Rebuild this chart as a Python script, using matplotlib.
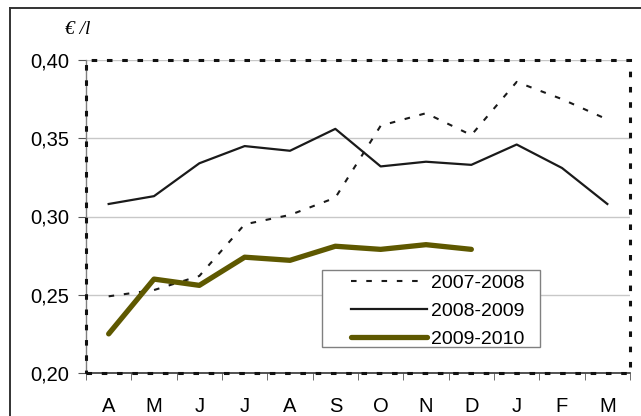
import matplotlib
matplotlib.use("Agg")
import matplotlib.pyplot as plt
from matplotlib.lines import Line2D
from matplotlib.patches import Rectangle

plt.rcParams["font.family"] = ["Liberation Sans", "DejaVu Sans"]
plt.rcParams["lines.scale_dashes"] = False

months = ["A", "M", "J", "J", "A", "S", "O", "N", "D", "J", "F", "M"]
s_2007_2008 = [0.249, 0.253, 0.262, 0.295, 0.301, 0.312, 0.358, 0.366, 0.352, 0.386, 0.375, 0.362]
s_2008_2009 = [0.308, 0.313, 0.334, 0.345, 0.342, 0.356, 0.332, 0.335, 0.333, 0.346, 0.331, 0.308]
s_2009_2010 = [0.225, 0.260, 0.256, 0.274, 0.272, 0.281, 0.279, 0.282, 0.279]
yticks = [0.20, 0.25, 0.30, 0.35, 0.40]
ytick_labels = ["0,20", "0,25", "0,30", "0,35", "0,40"]

W, H = 641, 416
fig = plt.figure(figsize=(W / 100, H / 100), dpi=100)
ax = fig.add_axes([86 / W, 43 / H, 544 / W, 313 / H])

x = list(range(len(months)))
ax.plot(x, s_2007_2008, color="#1a1a1a", lw=1.5, dashes=(4, 7), label="2007-2008")
ax.plot(x, s_2008_2009, color="#1a1a1a", lw=1.6, label="2008-2009")
ax.plot(x[:len(s_2009_2010)], s_2009_2010, color="#5e5800", lw=3.8,
        solid_capstyle="round", label="2009-2010")

ax.set_xlim(-0.5, 11.5)
ax.set_ylim(0.20, 0.40)
ax.set_yticks(yticks, ytick_labels)
ax.set_xticks(x, months)
ax.set_xticks([i - 0.5 for i in range(13)], minor=True)
ax.tick_params(axis="x", which="major", length=0, pad=17, labelsize=14.5)
ax.tick_params(axis="x", which="minor", length=5, color="#555555", direction="out")
ax.tick_params(axis="y", length=6, color="#555555", pad=6, labelsize=14.5)

for g in yticks[1:]:
    ax.axhline(g, color="#c8c8c8", lw=1, zorder=0)

for side in ["top", "right"]:
    ax.spines[side].set_visible(False)
ax.spines["left"].set_color("#808080")
ax.spines["bottom"].set_color("#333333")
ax.spines["left"].set_linewidth(1)
ax.spines["bottom"].set_linewidth(1.2)

# dashed frame around the plot area
frame = Rectangle((0, 0), 1, 1, transform=ax.transAxes, fill=False,
                  ec="#111111", lw=2.2, clip_on=False, zorder=5)
frame.set_linestyle((0, (4, 7)))
ax.add_patch(frame)

# legend box drawn separately so its size matches the original
box = Rectangle((0.434, 0.083), 0.401, 0.246, transform=ax.transAxes,
                fc="white", ec="#808080", lw=1, zorder=1)
ax.add_patch(box)
leg = ax.legend(loc="upper left", bbox_to_anchor=(0.487, 0.315), fontsize=14,
                frameon=False, handlelength=3.9, handletextpad=0.2,
                labelspacing=0.54, borderpad=0, borderaxespad=0)

fig.text(78 / W, 1 - 30 / H, "€ /l", family=["Liberation Serif", "DejaVu Serif"],
         style="italic", fontsize=14, ha="center", va="center")

# outer border
fig.add_artist(Line2D([10 / W, 10 / W], [0, 1 - 8 / H], transform=fig.transFigure,
                      color="#333333", lw=1.4))
fig.add_artist(Line2D([10 / W, 1], [1 - 8 / H, 1 - 8 / H], transform=fig.transFigure,
                      color="#333333", lw=1.4))

fig.savefig("out.png", dpi=100)
